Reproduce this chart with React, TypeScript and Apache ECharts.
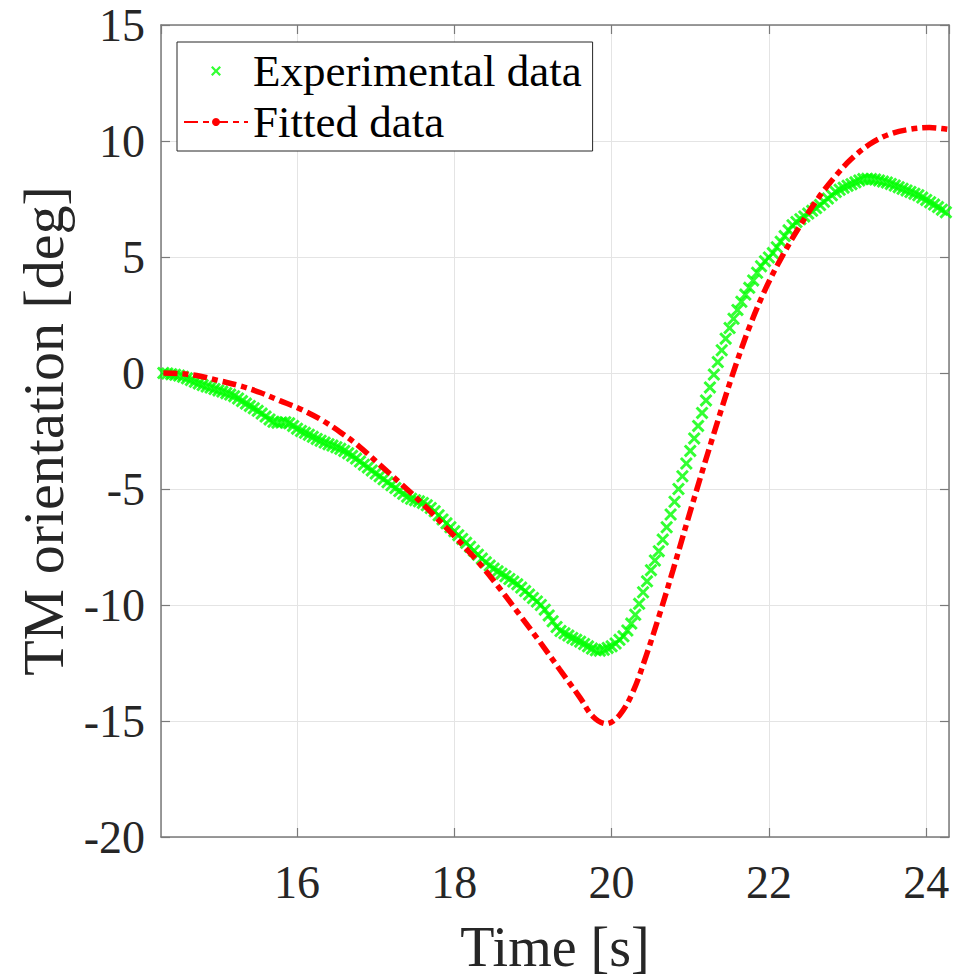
import React, { useEffect, useRef } from 'react';
import * as echarts from 'echarts';

// Axis ranges
const X_MIN = 14.27;
const X_MAX = 24.29;
const Y_MIN = -20;
const Y_MAX = 15;
const Y_STEP = 5;

// Experimental data: sampled every 0.05 s from 14.30 s
const expStart = 14.3;
const expStep = 0.05;
const expValues = [
  0.0, -0.02, -0.05, -0.08, -0.11, -0.16, -0.23, -0.3, -0.38, -0.45, -0.52, -0.58, -0.63, -0.69,
  -0.75, -0.8, -0.87, -0.93, -1.0, -1.1, -1.21, -1.32, -1.42, -1.52, -1.63, -1.75, -1.88, -2.0, -2.1, -2.14, -2.13, -2.12, -2.17, -2.28,
  -2.4, -2.5, -2.58, -2.66, -2.75, -2.84, -2.92, -3.0, -3.07, -3.13, -3.2, -3.27, -3.36, -3.46, -3.57, -3.69, -3.82, -3.95, -4.07, -4.2,
  -4.33, -4.45, -4.58, -4.71, -4.84, -4.96, -5.09, -5.21, -5.33, -5.42, -5.48, -5.53, -5.6, -5.7, -5.82, -5.96, -6.13, -6.31, -6.48, -6.65,
  -6.82, -6.99, -7.15, -7.32, -7.49, -7.66, -7.83, -8.0, -8.16, -8.3, -8.43, -8.55, -8.65, -8.76, -8.88, -8.99, -9.11, -9.25, -9.4, -9.55,
  -9.7, -9.85, -10.0, -10.2, -10.45, -10.7, -10.95, -11.12, -11.22, -11.32, -11.42, -11.5, -11.58, -11.68, -11.78, -11.88, -11.95, -11.97, -11.93, -11.85,
  -11.78, -11.66, -11.5, -11.35, -11.1, -10.8, -10.42, -9.95, -9.45, -8.98, -8.5, -8.08, -7.68, -7.18, -6.65, -6.1, -5.55, -5.0, -4.45, -3.9,
  -3.36, -2.82, -2.28, -1.72, -1.18, -0.62, -0.07, 0.47, 0.98, 1.48, 1.94, 2.34, 2.72, 3.07, 3.38, 3.67, 3.99, 4.32, 4.6, 4.82,
  4.98, 5.17, 5.42, 5.66, 5.9, 6.15, 6.37, 6.51, 6.63, 6.75, 6.87, 6.99, 7.11, 7.24, 7.38, 7.52, 7.66, 7.8, 7.9, 7.99,
  8.07, 8.14, 8.22, 8.3, 8.36, 8.37, 8.36, 8.34, 8.3, 8.25, 8.21, 8.15, 8.08, 8.01, 7.94, 7.87, 7.8, 7.73, 7.66, 7.56,
  7.46, 7.36, 7.26, 7.15, 7.04, 6.93, 6.85,
];

// Fitted curve (read at irregular times)
const fitTime = [
  14.3, 14.52, 14.77, 15.02, 15.27, 15.53, 15.78, 16.04, 16.29, 16.55, 16.8, 17.06, 17.31, 17.57, 17.82,
  18.07, 18.33, 18.58, 18.83, 19.09, 19.34, 19.6, 19.76, 19.93, 20.1, 20.27, 20.44, 20.61, 20.78, 21.03,
  21.29, 21.54, 21.76, 21.97, 22.18, 22.4, 22.64, 22.85, 23.04, 23.28, 23.53, 23.78, 24.04, 24.29,
];
const fitValue = [
  0.0, -0.03, -0.14, -0.34, -0.55, -0.84, -1.19, -1.55, -1.98, -2.55, -3.19, -3.98, -4.74, -5.55, -6.4,
  -7.28, -8.25, -9.3, -10.42, -11.6, -12.78, -14.0, -14.8, -15.12, -14.75, -13.75, -12.18, -10.4, -8.5, -5.62,
  -2.72, -0.05, 2.05, 3.72, 5.1, 6.37, 7.6, 8.5, 9.2, 9.86, 10.29, 10.5, 10.58, 10.5,
];

const SERIES_NAMES = ['Experimental data', 'Fitted data'];
const X_NAME = 'Time [s]';
const Y_NAME = 'TM orientation [deg]';

const X_PATH = 'path://M0,1.6L1.6,0L5,3.4L8.4,0L10,1.6L6.6,5L10,8.4L8.4,10L5,6.6L1.6,10L0,8.4L3.4,5Z';

export default function App() {
  const ref = useRef<HTMLDivElement>(null);
  useEffect(() => {
    document.body.style.margin = '0';
    const chart = echarts.init(ref.current!, null, { renderer: 'svg' });
    const expData = expValues.map((v, i) => [+(expStart + i * expStep).toFixed(2), v]);
    const fitData = fitTime.map((t, i) => [t, fitValue[i]]);
    const font = "'Liberation Serif', 'Times New Roman', serif";
    const axisColor = '#7a7a7a';
    const textColor = '#262626';
    const gridColor = '#e4e4e4';

    chart.setOption({
      animation: false,
      backgroundColor: '#ffffff',
      grid: { left: 161, right: 22, top: 25, bottom: 137, containLabel: false },
      legend: {
        orient: 'vertical',
        left: 177,
        top: 42,
        itemWidth: 64,
        itemHeight: 10,
        itemGap: 5,
        padding: [6, 11, 6, 6],
        borderColor: '#262626',
        borderWidth: 1,
        backgroundColor: '#ffffff',
        textStyle: { fontSize: 45, fontFamily: font, color: '#000000', lineHeight: 46 },
        data: [{ name: SERIES_NAMES[0], icon: X_PATH }, { name: SERIES_NAMES[1] }],
      },
      xAxis: [
        {
          type: 'value',
          min: X_MIN,
          max: X_MAX,
          splitNumber: 5,
          position: 'bottom',
          axisLine: { show: true, onZero: false, lineStyle: { color: axisColor, width: 1.5 } },
          axisTick: { show: true, inside: true, length: 9, lineStyle: { color: axisColor, width: 1.2 } },
          axisLabel: {
            showMinLabel: false,
            showMaxLabel: false,
            fontSize: 46,
            fontFamily: font,
            color: textColor,
            margin: 22,
          },
          splitLine: { show: true, lineStyle: { color: gridColor, width: 1 } },
          name: X_NAME,
          nameLocation: 'middle',
          nameGap: 82,
          nameTextStyle: { fontSize: 56, fontFamily: font, color: textColor },
        },
        {
          type: 'value',
          min: X_MIN,
          max: X_MAX,
          splitNumber: 5,
          position: 'top',
          axisLine: { show: true, onZero: false, lineStyle: { color: axisColor, width: 1.5 } },
          axisTick: { show: true, inside: true, length: 9, lineStyle: { color: axisColor, width: 1.2 } },
          axisLabel: { show: false },
          splitLine: { show: false },
        },
      ],
      yAxis: [
        {
          type: 'value',
          min: Y_MIN,
          max: Y_MAX,
          interval: Y_STEP,
          position: 'left',
          axisLine: { show: true, onZero: false, lineStyle: { color: axisColor, width: 1.5 } },
          axisTick: { show: true, inside: true, length: 9, lineStyle: { color: axisColor, width: 1.2 } },
          axisLabel: { fontSize: 46, fontFamily: font, color: textColor, margin: 16 },
          splitLine: { show: true, lineStyle: { color: gridColor, width: 1 } },
          name: Y_NAME,
          nameLocation: 'middle',
          nameGap: 88,
          nameRotate: 90,
          nameTextStyle: { fontSize: 58, fontFamily: font, color: textColor },
        },
        {
          type: 'value',
          min: Y_MIN,
          max: Y_MAX,
          interval: Y_STEP,
          position: 'right',
          axisLine: { show: true, onZero: false, lineStyle: { color: axisColor, width: 1.5 } },
          axisTick: { show: true, inside: true, length: 9, lineStyle: { color: axisColor, width: 1.2 } },
          axisLabel: { show: false },
          splitLine: { show: false },
        },
      ],
      series: [
        {
          type: 'scatter',
          name: SERIES_NAMES[0],
          data: expData,
          symbol: X_PATH,
          symbolSize: 13,
          symbolKeepAspect: true,
          itemStyle: { color: '#00ff00' },
          z: 2,
        },
        {
          type: 'line',
          name: SERIES_NAMES[1],
          data: fitData,
          smooth: 0.35,
          symbol: 'none',
          showSymbol: false,
          lineStyle: { color: '#ff0000', width: 5.5, type: [14, 5, 6, 5] },
          itemStyle: { color: '#ff0000' },
          z: 3,
        },
      ],
    });
    return () => chart.dispose();
  }, []);
  return (
    <div
      ref={ref}
      style={{ position: 'absolute', left: 0, top: 0, width: 971, height: 980 }}
    />
  );
}
